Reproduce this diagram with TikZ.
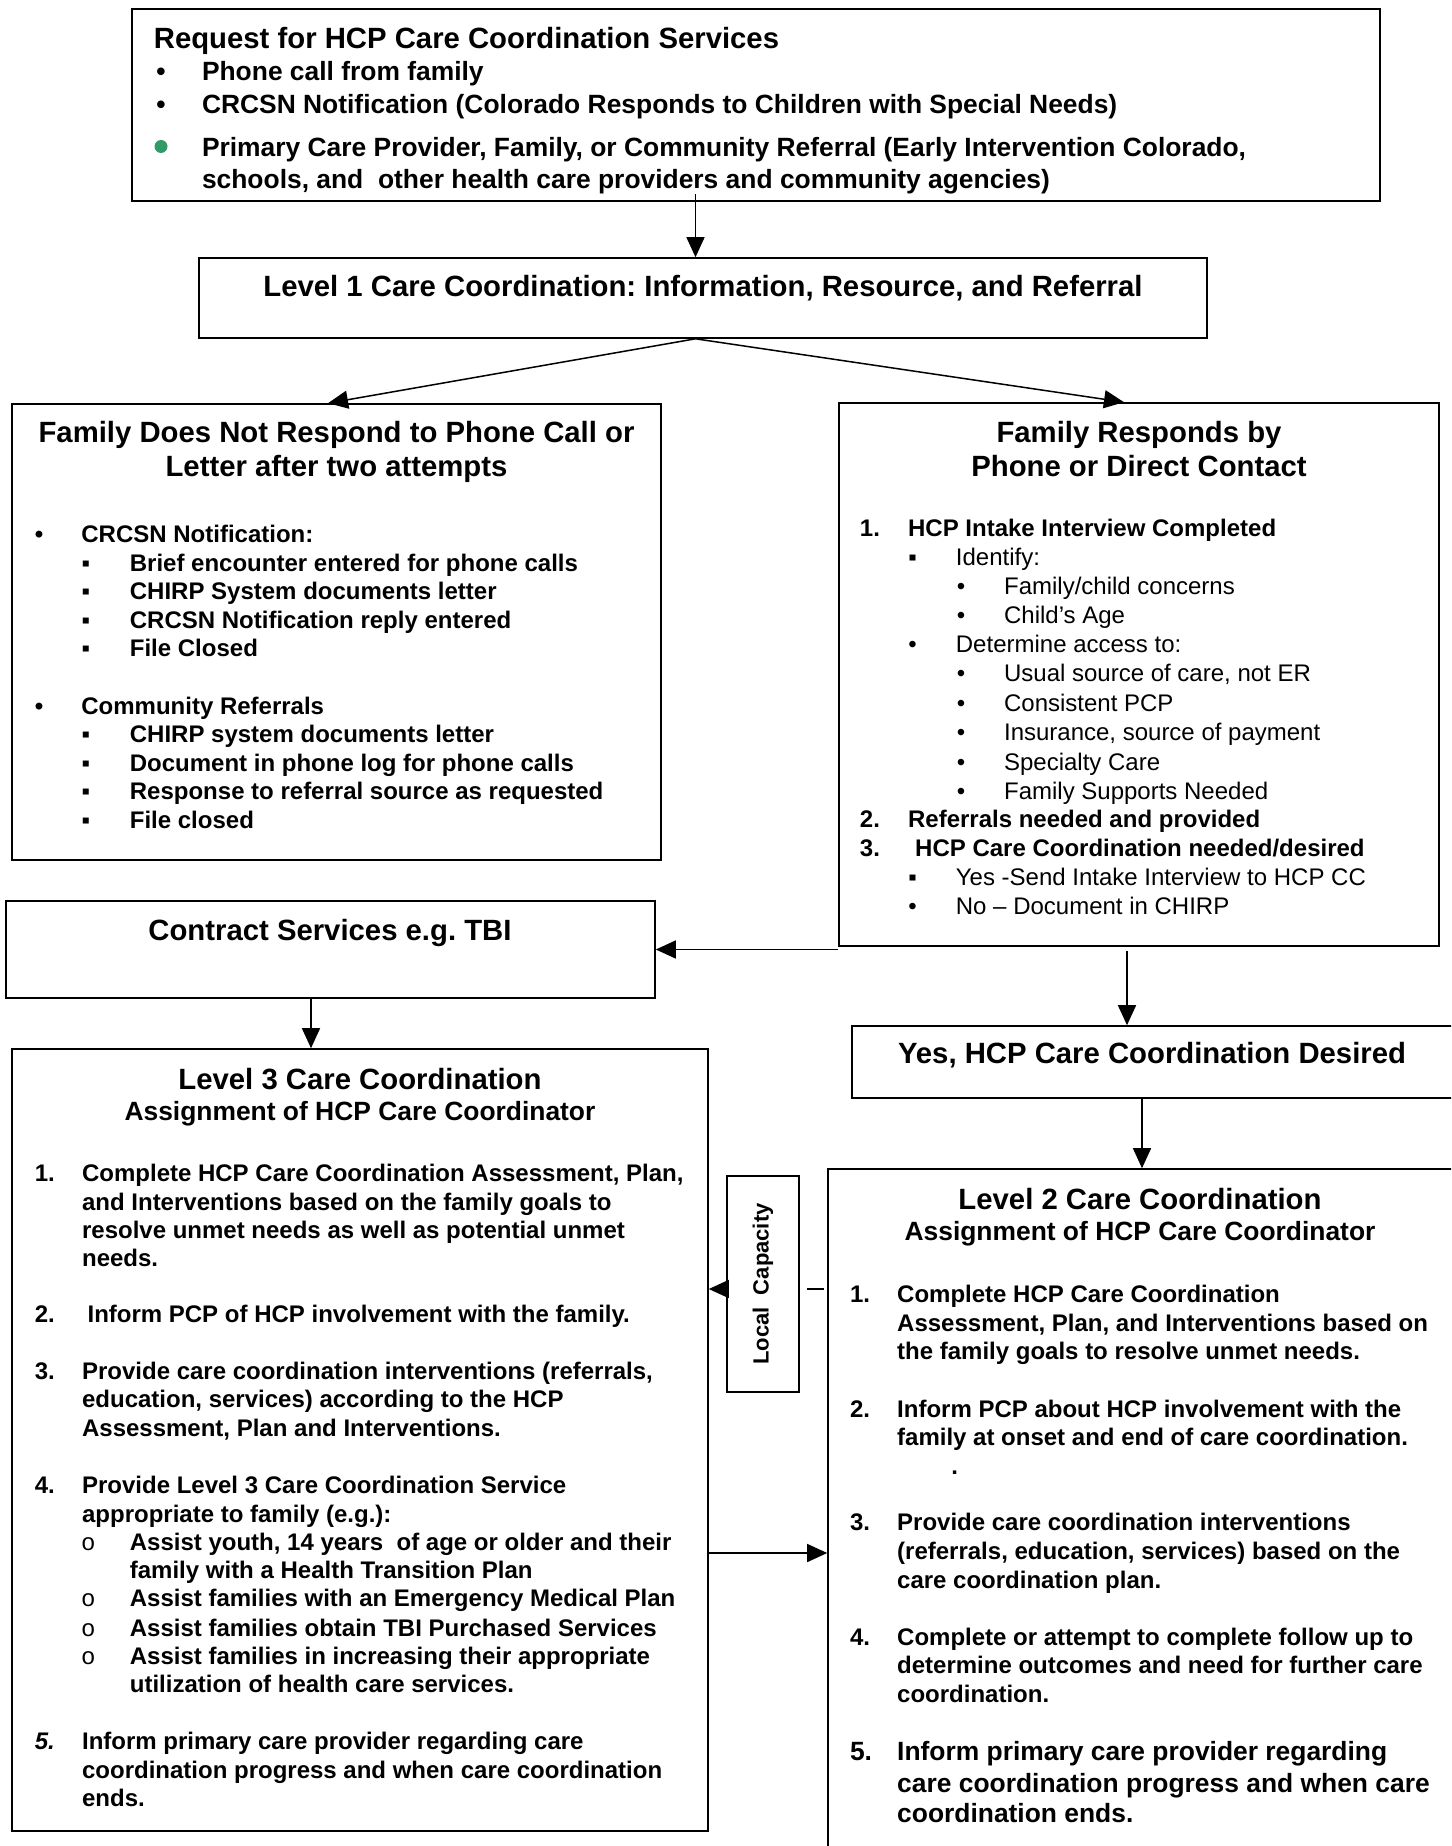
\documentclass[tikz,border=0pt]{standalone}
\usepackage{fontspec}
\setmainfont{Liberation Sans}
\newfontfamily\monof{Liberation Mono}
\usetikzlibrary{arrows.meta,fit}
\definecolor{bulletgreen}{RGB}{51,153,102}
\frenchspacing
\begin{document}
\begin{tikzpicture}[x=0.5pt,y=-0.5pt,
  box/.style={draw, line width=0.8pt, inner sep=0pt},
  conn/.style={line width=0.75pt},
  arr/.style={conn, -{Triangle[length=10pt,width=9pt]}},
  tl/.style={inner sep=0pt, anchor=base west},
  tc/.style={inner sep=0pt, anchor=base},
  hd/.style={font=\fontsize{14.65}{17}\selectfont\bfseries},
  sh/.style={font=\fontsize{13.2}{15}\selectfont\bfseries},
  bd/.style={font=\fontsize{12}{14}\selectfont\bfseries},
  rg/.style={font=\fontsize{12}{14}\selectfont},
  mo/.style={font=\fontsize{12}{14}\selectfont\monof},
]
\useasboundingbox (0,0) rectangle (1451,1846);
\fill[white] (0,0) rectangle (1451,1846);
\clip (0,0) rectangle (1451,1846);

% ---------- top box
\node[box, fit={(132,9)(1380,201)}] (top) {};
\node[tl,hd] (topH) at (153.5,49) {Request for HCP Care Coordination Services};
\node[tc,sh] (tb1) at (161,80.8) {•};
\node[tc,sh] (tb2) at (161,113.5) {•};
\node[circle, fill=bulletgreen, inner sep=0pt, minimum size=6.5pt] (tb3) at (161,146.5) {};
\node[tl,sh] (ti1) at (201.6,80.8) {Phone call from family};
\node[tl,sh] (ti2) at (201.6,113.5) {CRCSN Notification (Colorado Responds to Children with Special Needs)};
\node[tl,sh] (ti3) at (201.6,157) {Primary Care Provider, Family, or Community Referral (Early Intervention Colorado,};
\node[tl,sh] (ti4) at (201.6,188.6) {schools, and\ \ other health care providers and community agencies)};

% ---------- level 1
\node[box, fit={(199,258)(1207,338)}] (L1) {};
\node[tc,hd] (L1t) at (703,296.7) {Level 1 Care Coordination: Information, Resource, and Referral};

% ---------- left box
\node[box, fit={(12,404)(661,860)}] (lft) {};
\node[tc,hd] (lfH1) at (336.5,442.5) {Family Does Not Respond to Phone Call or};
\node[tc,hd] (lfH2) at (336.5,476) {Letter after two attempts};
\node[tc,bd] (lb1) at (39,542) {•};
\node[tl,bd] (li1) at (81,542) {CRCSN Notification:};
\node[tc,bd] (ls1) at (86,571) {▪};
\node[tc,bd] (ls2) at (86,599.6) {▪};
\node[tc,bd] (ls3) at (86,628) {▪};
\node[tc,bd] (ls4) at (86,656) {▪};
\node[tl,bd] (lt1) at (129.5,571) {Brief encounter entered for phone calls};
\node[tl,bd] (lt2) at (129.5,599.6) {CHIRP System documents letter};
\node[tl,bd] (lt3) at (129.5,628) {CRCSN Notification reply entered};
\node[tl,bd] (lt4) at (129.5,656) {File Closed};
\node[tc,bd] (lb2) at (39,714) {•};
\node[tl,bd] (li2) at (81,714) {Community Referrals};
\node[tc,bd] (ls5) at (86,742.5) {▪};
\node[tc,bd] (ls6) at (86,771) {▪};
\node[tc,bd] (ls7) at (86,799.6) {▪};
\node[tc,bd] (ls8) at (86,828) {▪};
\node[tl,bd] (lt5) at (129.5,742.5) {CHIRP system documents letter};
\node[tl,bd] (lt6) at (129.5,771) {Document in phone log for phone calls};
\node[tl,bd] (lt7) at (129.5,799.6) {Response to referral source as requested};
\node[tl,bd] (lt8) at (129.5,828) {File closed};

% ---------- right box
\node[box, fit={(839,403)(1439,946)}] (rgt) {};
\node[tc,hd] (rgH1) at (1139,442.5) {Family Responds by};
\node[tc,hd] (rgH2) at (1139,476) {Phone or Direct Contact};
\node[tl,bd] (rn1) at (859.5,536) {1.};
\node[tl,bd] (rt1) at (907.7,536) {HCP Intake Interview Completed};
\node[tc,rg] (rs1) at (912.6,565) {▪};
\node[tl,rg] (rt2) at (955.5,565) {Identify:};
\node[tc,rg] (rb1) at (961,594) {•};
\node[tl,rg] (rt3) at (1003.7,594) {Family/child concerns};
\node[tc,rg] (rb2) at (961,623.3) {•};
\node[tl,rg] (rt4) at (1003.7,623.3) {Child’s Age};
\node[tc,rg] (rb3) at (912.6,652.3) {•};
\node[tl,rg] (rt5) at (955.5,652.3) {Determine access to:};
\node[tc,rg] (rb4) at (961,681.8) {•};
\node[tl,rg] (rt6) at (1003.7,681.8) {Usual source of care, not ER};
\node[tc,rg] (rb5) at (961,711) {•};
\node[tl,rg] (rt7) at (1003.7,711) {Consistent PCP};
\node[tc,rg] (rb6) at (961,740.7) {•};
\node[tl,rg] (rt8) at (1003.7,740.7) {Insurance, source of payment};
\node[tc,rg] (rb7) at (961,770) {•};
\node[tl,rg] (rt9) at (1003.7,770) {Specialty Care};
\node[tc,rg] (rb8) at (961,799.6) {•};
\node[tl,rg] (rt10) at (1003.7,799.6) {Family Supports Needed};
\node[tl,bd] (rn2) at (859.5,827.8) {2.};
\node[tl,bd] (rt11) at (907.7,827.8) {Referrals needed and provided};
\node[tl,bd] (rn3) at (859.5,856.8) {3.};
\node[tl,bd] (rt12) at (914.8,856.8) {HCP Care Coordination needed/desired};
\node[tc,rg] (rs2) at (912.6,885.4) {▪};
\node[tl,rg] (rt13) at (955.5,885.4) {Yes -Send Intake Interview to HCP CC};
\node[tc,rg] (rb9) at (912.6,914) {•};
\node[tl,rg] (rt14) at (955.5,914) {No – Document in CHIRP};

% ---------- contract services
\node[box, fit={(6,901)(655,998)}] (con) {};
\node[tc,hd] (conT) at (330,940) {Contract Services e.g. TBI};

% ---------- yes box
\node[box, fit={(852,1026)(1456,1098)}] (yes) {};
\node[tc,hd] (yesT) at (1152,1063) {Yes, HCP Care Coordination Desired};

% ---------- level 3
\node[box, fit={(12,1049)(708,1831)}] (L3) {};
\node[tc,hd] (L3h1) at (360,1089.5) {Level 3 Care Coordination};
\node[tc,sh] (L3h2) at (360,1120.3) {Assignment of HCP Care Coordinator};
\node[tl,bd] (an1) at (34.4,1181.7) {1.};
\node[tl,bd] (at1) at (81.7,1181.7) {Complete HCP Care Coordination Assessment, Plan,};
\node[tl,bd] (at2) at (81.7,1210) {and Interventions based on the family goals to};
\node[tl,bd] (at3) at (81.7,1238.2) {resolve unmet needs as well as potential unmet};
\node[tl,bd] (at4) at (81.7,1266.5) {needs.};
\node[tl,bd] (an2) at (34.4,1322.4) {2.};
\node[tl,bd] (at5) at (87.2,1322.4) {Inform PCP of HCP involvement with the family.};
\node[tl,bd] (an3) at (34.4,1379.6) {3.};
\node[tl,bd] (at6) at (81.7,1379.6) {Provide care coordination interventions (referrals,};
\node[tl,bd] (at7) at (81.7,1407.9) {education, services) according to the HCP};
\node[tl,bd] (at8) at (81.7,1436.1) {Assessment, Plan and Interventions.};
\node[tl,bd] (an4) at (34.4,1493.5) {4.};
\node[tl,bd] (at9) at (81.7,1493.5) {Provide Level 3 Care Coordination Service};
\node[tl,bd] (at10) at (81.7,1522) {appropriate to family (e.g.):};
\node[tc,mo] (ao1) at (88.4,1550.3) {o};
\node[tl,bd] (at11) at (129.5,1550.3) {Assist youth, 14 years\ \ of age or older and their};
\node[tl,bd] (at12) at (129.5,1578.6) {family with a Health Transition Plan};
\node[tc,mo] (ao2) at (88.4,1606.9) {o};
\node[tl,bd] (at13) at (129.5,1606.9) {Assist families with an Emergency Medical Plan};
\node[tc,mo] (ao3) at (88.4,1636.3) {o};
\node[tl,bd] (at14) at (129.5,1636.3) {Assist families obtain TBI Purchased Services};
\node[tc,mo] (ao4) at (88.4,1664.6) {o};
\node[tl,bd] (at15) at (129.5,1664.6) {Assist families in increasing their appropriate};
\node[tl,bd] (at16) at (129.5,1692.8) {utilization of health care services.};
\node[tl,bd,font=\fontsize{12}{14}\selectfont\bfseries\itshape] (an5) at (34.4,1749.5) {5.};
\node[tl,bd] (at17) at (81.7,1749.5) {Inform primary care provider regarding care};
\node[tl,bd] (at18) at (81.7,1778) {coordination progress and when care coordination};
\node[tl,bd] (at19) at (81.7,1806.5) {ends.};

% ---------- level 2
\node[box, fit={(828,1169)(1456,1860)}] (L2) {};
\node[tc,hd] (L2h1) at (1140,1209.5) {Level 2 Care Coordination};
\node[tc,sh] (L2h2) at (1140,1240) {Assignment of HCP Care Coordinator};
\node[tl,bd] (bn1) at (849.6,1302.3) {1.};
\node[tl,bd] (bt1) at (896.8,1302.3) {Complete HCP Care Coordination};
\node[tl,bd] (bt2) at (896.8,1331.6) {Assessment, Plan, and Interventions based on};
\node[tl,bd] (bt3) at (896.8,1359.4) {the family goals to resolve unmet needs.};
\node[tl,bd] (bn2) at (849.6,1417) {2.};
\node[tl,bd] (bt4) at (896.8,1417) {Inform PCP about HCP involvement with the};
\node[tl,bd] (bt5) at (896.8,1445.4) {family at onset and end of care coordination.};
\node[tl,bd] (bt6) at (951,1474.7) {.};
\node[tl,bd] (bn3) at (849.6,1530.4) {3.};
\node[tl,bd] (bt7) at (896.8,1530.4) {Provide care coordination interventions};
\node[tl,bd] (bt8) at (896.8,1559.7) {(referrals, education, services) based on the};
\node[tl,bd] (bt9) at (896.8,1588) {care coordination plan.};
\node[tl,bd] (bn4) at (849.6,1645.2) {4.};
\node[tl,bd] (bt10) at (896.8,1645.2) {Complete or attempt to complete follow up to};
\node[tl,bd] (bt11) at (896.8,1673.6) {determine outcomes and need for further care};
\node[tl,bd] (bt12) at (896.8,1702) {coordination.};
\node[tl,sh] (bn5) at (849.6,1760.5) {5.};
\node[tl,sh] (bt13) at (896.8,1760.5) {Inform primary care provider regarding};
\node[tl,sh] (bt14) at (896.8,1792.3) {care coordination progress and when care};
\node[tl,sh] (bt15) at (896.8,1822.6) {coordination ends.};

% ---------- local capacity
\node[box, fit={(727,1176)(799,1392)}] (lc) {};
\node[rotate=90, inner sep=0pt, font=\fontsize{11}{13}\selectfont\bfseries] (lcT) at (lc.center) {Local\ \ Capacity};

% ---------- connectors
\coordinate (c1) at (695.5,194);
\coordinate (c3) at (328,0);
\coordinate (c4) at (1124,0);
\coordinate (c5) at (1127,950.5);
\coordinate (c6) at (311,0);
\coordinate (c7) at (0,1289);
\coordinate (c8) at (807,1289);
\coordinate (c9) at (0,1553);
\draw[arr] (c1) -- (c1 |- L1.north);
\draw[arr] (c1 |- L1.south) -- (c3 |- lft.north);
\draw[arr] (c1 |- L1.south) -- (c4 |- rgt.north);
\draw[arr] (con.east -| rgt.west) -- (con.east);
\draw[arr] (c5) -- (c5 |- yes.north);
\draw[arr] (L2.north |- yes.south) -- (L2.north);
\draw[arr] (c6 |- con.south) -- (c6 |- L3.north);
\draw[arr] (c7 -| lc.west) -- (c7 -| L3.east);
\draw[conn] (c8) -- ++(17,0);
\draw[arr] (c9 -| L3.east) -- (c9 -| L2.west);
\end{tikzpicture}
\end{document}
